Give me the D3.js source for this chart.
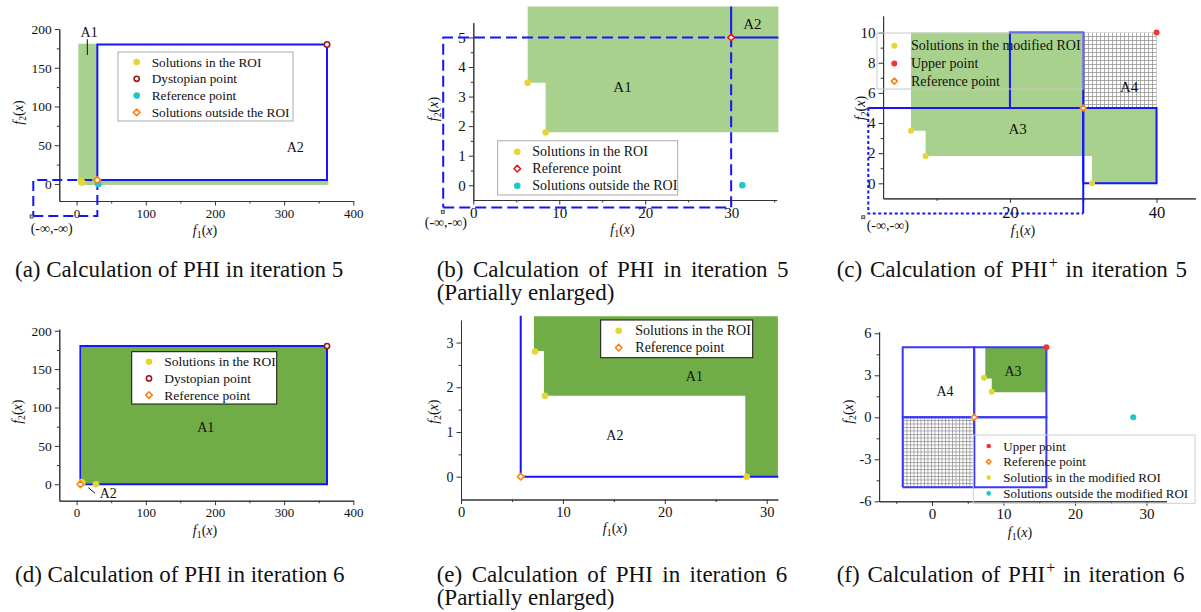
<!DOCTYPE html>
<html>
<head>
<meta charset="utf-8">
<script src="https://cdn.jsdelivr.net/npm/d3@7/dist/d3.min.js"></script>
<style>
body { margin: 0; background: #fff; }
text { font-family: "Liberation Serif", "Times New Roman", serif; fill: #111; white-space: pre; }
</style>
</head>
<body>
<div id="container"></div>
<script>
// ---------- (a) PHI, iteration 5 ----------
var aXDomain = [-25, 400], aYDomain = [-22, 200];
var aXTicks = [0, 100, 200, 300, 400], aXMinor = [50, 150, 250, 350];
var aYTicks = [0, 50, 100, 150, 200], aYMinor = [25, 75, 125, 175];
var aGreen = [[2.5, -1.5], [2.5, 181], [30, 181], [30, 5], [364, 5], [364, -1.5]];
var aBlueBox = [[30, 5], [362, 180]];
var aDashBox = [[-62.6, -41.3], [30, 5]];
var aInf = [-65, -42];
var aInROI = [[6.4, 3.5], [8.4, 1.8]];
var aDystopian = [[362, 180]];
var aRefPoint = [[31.3, 0]];
var aOutside = [[30, 5]];
var aLegend = ["Solutions in the ROI", "Dystopian point", "Reference point", "Solutions outside the ROI"];
var aLabels = [["A1", 18.2, 190], ["A2", 316, 41]];
var aLeader = [[15.5, 186.8], [15.5, 166.5]];

// ---------- (b) PHI, iteration 5, enlarged ----------
var bXDomain = [0, 35.3], bYDomain = [-0.5, 5.5];
var bXTicks = [0, 10, 20, 30], bXMinor = [5, 15, 25, 35];
var bYTicks = [0, 1, 2, 3, 4, 5], bYMinor = [0.5, 1.5, 2.5, 3.5, 4.5];
var bGreen = [[6.33, 6.05], [35.5, 6.05], [35.5, 1.79], [8.42, 1.79], [8.42, 3.47], [6.33, 3.47]];
var bBlue = [[[30, 6.05], [30, 5], [35.5, 5]]];
var bDashBox = [[-3.5, -0.75], [30, 5]];
var bInf = [-3.55, -0.9];
var bInROI = [[6.33, 3.47], [8.42, 1.79]];
var bRefPoint = [[30, 5]];
var bOutside = [[31.3, 0]];
var bLegend = ["Solutions in the ROI", "Reference point", "Solutions outside the ROI"];
var bLabels = [["A1", 17.36, 3.16], ["A2", 32.48, 5.28]];

// ---------- (c) PHI+, iteration 5 ----------
var cXDomain = [2.7, 45.3], cYDomain = [-1, 11.1];
var cXTicks = [20, 40], cXMinor = [10, 30];
var cYTicks = [0, 2, 4, 6, 8, 10], cYMinor = [1, 3, 5, 7, 9];
var cGreen = [[6.5, 10], [30, 10], [30, 5], [40, 5], [40, 0], [31.2, 0], [31.2, 1.81], [8.5, 1.81], [8.5, 3.49], [6.5, 3.49]];
var cHatch = [[[30, 5], [40, 10]]];
var cBoxes = [[[20, 5], [30, 10]], [[30, 0], [40, 5]]];
var cBlue = [[[0.68, 5], [30, 5]], [[30, 5], [30, -2]]];
var cDotted = [[[0.68, 5], [0.68, -2], [30, -2]]];
var cInf = [0, -2.25];
var cInROI = [[6.5, 3.49], [8.5, 1.81], [31.2, 0]];
var cUpper = [[40, 10]];
var cRefPoint = [[30, 5]];
var cLegend = ["Solutions in the modified ROI", "Upper point", "Reference point"];
var cLabels = [["A3", 21.04, 3.27], ["A4", 36.27, 6.04]];

// ---------- (d) PHI, iteration 6 ----------
var dXDomain = [-25, 400], dYDomain = [-21.4, 202];
var dXTicks = [0, 100, 200, 300, 400], dXMinor = [50, 150, 250, 350];
var dYTicks = [0, 50, 100, 150, 200], dYMinor = [25, 75, 125, 175];
var dGreen = [[7.2, 180], [362, 180], [362, 0], [27.9, 0], [27.9, 1.8], [8.2, 1.8], [8.2, 2.8], [7.2, 2.8]];
var dBoxes = [[[5.5, 0], [362, 180]]];
var dInROI = [[7.2, 2.8], [8.2, 1.8], [28, 0]];
var dDystopian = [[362, 180]];
var dRefPoint = [[5.5, 0]];
var dLegend = ["Solutions in the ROI", "Dystopian point", "Reference point"];
var dLabels = [["A1", 186.7, 68.1], ["A2", 45.8, -18.2]];
var dLeader = [[16.9, -4.4], [26.6, -11.7]];

// ---------- (e) PHI, iteration 6, enlarged ----------
var eXDomain = [0, 31.1], eYDomain = [-0.51, 3.5];
var eXTicks = [0, 10, 20, 30], eXMinor = [5, 15, 25];
var eYTicks = [0, 1, 2, 3], eYMinor = [0.5, 1.5, 2.5];
var eGreen = [[7.16, 3.59], [31.1, 3.59], [31.1, 0], [27.9, 0], [27.9, 1.81], [8.14, 1.81], [8.14, 2.81], [7.16, 2.81]];
var eBlue = [[[5.86, 3.6], [5.86, 0], [31.14, 0]]];
var eInROI = [[7.26, 2.8], [8.24, 1.81], [28.04, 0]];
var eRefPoint = [[5.86, 0]];
var eLegend = ["Solutions in the ROI", "Reference point"];
var eLabels = [["A1", 22.9, 2.14], ["A2", 15.1, 0.81]];

// ---------- (f) PHI+, iteration 6 ----------
var fXDomain = [-7.4, 32.8], fYDomain = [-6, 6.1];
var fXTicks = [0, 10, 20, 30], fXMinor = [-5, 5, 15, 25];
var fYTicks = [-6, -3, 0, 3, 6], fYMinor = [-4.5, -1.5, 1.5, 4.5];
var fGreen = [[7.46, 5], [16, 5], [16, 1.79], [8.35, 1.79], [8.35, 2.78], [7.46, 2.78]];
var fHatch = [[[-4.1, -5], [5.9, 0]]];
var fBoxes = [[[-4.1, 0], [5.9, 5]], [[5.9, 0], [16, 5]], [[-4.1, -5], [5.9, 0]], [[5.9, -5], [16, 0]]];
var fInROI = [[7.27, 2.83], [8.35, 1.83]];
var fUpper = [[16, 5]];
var fRefPoint = [[5.9, 0]];
var fOutside = [[28.15, 0]];
var fLegend = ["Upper point", "Reference point", "Solutions in the modified ROI", "Solutions outside the modified ROI"];
var fLabels = [["A3", 11.33, 2.97], ["A4", 1.82, 1.54]];

var captions = {
  a: ["(a) Calculation of PHI in iteration 5"],
  b: ["(b) Calculation of PHI in iteration 5", "(Partially enlarged)"],
  c: ["(c) Calculation of PHI^+ in iteration 5"],
  d: ["(d) Calculation of PHI in iteration 6"],
  e: ["(e) Calculation of PHI in iteration 6", "(Partially enlarged)"],
  f: ["(f) Calculation of PHI^+ in iteration 6"]
};

// ---------- drawing ----------
var svg = d3.select("#container").append("svg")
    .attr("width", 1201)
    .attr("height", 612);
var defs = svg.append("defs");

var BLUE = "#1414ff", LIGHT_GREEN = "#a9d18e", DARK_GREEN = "#70ad47";

// grid hatching used for the A4 cells
function hatch(id, step) {
    var p = defs.append("pattern").attr("id", id)
        .attr("patternUnits", "userSpaceOnUse")
        .attr("width", step).attr("height", step);
    p.append("rect").attr("width", step).attr("height", step).attr("fill", "#fff");
    p.append("path").attr("d", "M0,0.5H" + step + "M0.5,0V" + step)
        .attr("stroke", "#8a8a8a").attr("stroke-width", 0.7);
}
hatch("gridC", 4);
hatch("gridF", 3.5);

var kinds = {
    yellow: { shape: "circle", fill: "#e5d535", stroke: "none" },
    cyan: { shape: "circle", fill: "#1ec8c8", stroke: "none" },
    red: { shape: "circle", fill: "#f03535", stroke: "none" },
    darkRing: { shape: "circle", fill: "#fff", stroke: "#9a1818" },
    orangeDia: { shape: "diamond", fill: "#fff", stroke: "#ff7f10" },
    redDia: { shape: "diamond", fill: "#fff", stroke: "#e81818" }
};

function marker(g, kind, cx, cy, r) {
    var k = kinds[kind], el;
    if (k.shape == "circle") {
        el = g.append("circle").attr("cx", cx).attr("cy", cy)
            .attr("r", k.stroke == "none" ? r : r - 0.7);
    } else {
        el = g.append("path")
            .attr("d", "M" + cx + "," + (cy - r) + "L" + (cx + r) + "," + cy +
                "L" + cx + "," + (cy + r) + "L" + (cx - r) + "," + cy + "Z")
            .attr("stroke-linejoin", "round");
    }
    el.attr("fill", k.fill).attr("stroke", k.stroke).attr("stroke-width", 1.6);
}

function boxPts(b) {
    return [[b[0][0], b[0][1]], [b[1][0], b[0][1]], [b[1][0], b[1][1]], [b[0][0], b[1][1]], [b[0][0], b[0][1]]];
}

function axis(sel, make, scale, ticks, minor, fs) {
    sel.append("g").call(make(scale).tickValues(minor).tickSize(2.5).tickSizeOuter(0).tickFormat(""));
    sel.append("g").call(make(scale).tickValues(ticks).tickSize(4.5).tickSizeOuter(0)
        .tickPadding(3).tickFormat(function(d) { return String(d); }))
        .attr("font-size", fs);
    sel.selectAll("path, line").attr("stroke", "#333");
    sel.selectAll("text").attr("fill", "#222");
}

function axisTitle(g, sub, tx, ty, rot, fs) {
    var t = g.append("text")
        .attr("text-anchor", "middle")
        .attr("font-size", fs)
        .attr("transform", "translate(" + tx + "," + ty + ")" + (rot ? " rotate(-90)" : ""));
    t.append("tspan").attr("font-style", "italic").text("f");
    t.append("tspan").attr("font-size", fs * 0.7).attr("dy", 3).text(sub);
    t.append("tspan").attr("dy", -3).text("(");
    t.append("tspan").attr("font-style", "italic").text("x");
    t.append("tspan").text(")");
}

// figure captions, "^+" marks the superscript plus
function caption(lines, cx, cy, ws) {
    lines.forEach(function(s, i) {
        var t = svg.append("text").attr("x", cx).attr("y", cy + i * 23)
            .attr("font-size", 23).attr("word-spacing", i == 0 ? ws : 0);
        var parts = s.split("^+");
        t.append("tspan").text(parts[0]);
        if (parts.length > 1) {
            t.append("tspan").attr("font-size", 16).attr("dx", 1).attr("dy", -9).text("+");
            t.append("tspan").attr("dy", 9).text(parts[1]);
        }
    });
}

function drawPanel(p) {
    var x = d3.scaleLinear().domain(p.xDomain).range(p.xRange);
    var y = d3.scaleLinear().domain(p.yDomain).range(p.yRange);
    var line = d3.line().x(function(d) { return x(d[0]); }).y(function(d) { return y(d[1]); });
    var g = svg.append("g");

    axis(g.append("g").attr("transform", "translate(0," + p.yRange[0] + ")"),
        d3.axisBottom, x, p.xTicks, p.xMinor, p.xFont);
    axis(g.append("g").attr("transform", "translate(" + p.xRange[0] + ",0)"),
        d3.axisLeft, y, p.yTicks, p.yMinor, p.yFont);

    // hatched cells
    (p.hatch || []).forEach(function(h) {
        g.append("rect")
            .attr("x", x(h[0][0])).attr("y", y(h[1][1]))
            .attr("width", x(h[1][0]) - x(h[0][0]))
            .attr("height", y(h[0][1]) - y(h[1][1]))
            .attr("fill", "url(#" + p.hatchId + ")");
    });

    // shaded area
    g.append("path").attr("d", line(p.green) + "Z").attr("fill", p.greenColor);

    // dashed / dotted guides
    (p.dashed || []).forEach(function(l) {
        g.append("path").attr("d", line(l)).attr("fill", "none")
            .attr("stroke", BLUE).attr("stroke-width", 2).attr("stroke-dasharray", p.dash);
    });

    // solid blue rectangles and lines
    var blue = (p.boxes || []).map(boxPts).concat(p.blue || []);
    blue.forEach(function(l) {
        g.append("path").attr("d", line(l)).attr("fill", "none")
            .attr("stroke", p.blueColor || BLUE).attr("stroke-width", 2)
            .attr("stroke-linejoin", "miter");
    });

    // leader line for a small area label
    if (p.leader) {
        g.append("path").attr("d", line(p.leader)).attr("stroke", "#111").attr("stroke-width", 1);
    }

    // (-inf,-inf) corner
    if (p.inf) {
        g.append("rect")
            .attr("x", x(p.inf[0]) - 1.5).attr("y", y(p.inf[1]) - 1.5)
            .attr("width", 3).attr("height", 3)
            .attr("fill", "#ccc").attr("stroke", "#333").attr("stroke-width", 0.8);
        g.append("text")
            .attr("x", x(p.inf[0]) + p.infOffset[0])
            .attr("y", y(p.inf[1]) + p.infOffset[1])
            .attr("text-anchor", p.infOffset[2])
            .attr("font-size", 14)
            .text("(-\u221e,-\u221e)");
    }

    // points
    p.points.forEach(function(s) {
        s[1].forEach(function(d) { marker(g, s[0], x(d[0]), y(d[1]), p.r); });
    });

    // area labels
    p.labels.forEach(function(l) {
        g.append("text").attr("x", x(l[1])).attr("y", y(l[2]))
            .attr("text-anchor", "middle").attr("font-size", p.labelFont).text(l[0]);
    });

    // legend
    var L = p.legend;
    g.append("rect").attr("x", L.box[0]).attr("y", L.box[1])
        .attr("width", L.box[2]).attr("height", L.box[3])
        .attr("fill", L.fill).attr("stroke", L.stroke).attr("stroke-width", 1);
    L.items.forEach(function(it, i) {
        var yy = L.y0 + i * L.dy;
        marker(g, it[0], L.mx, yy, L.r);
        g.append("text").attr("x", L.tx).attr("y", yy + 4.6)
            .attr("font-size", L.fs).text(it[1]);
    });

    axisTitle(g, "1", p.xTitle[0], p.xTitle[1], false, 14);
    axisTitle(g, "2", p.yTitle[0], p.yTitle[1], true, 14);
}

drawPanel({
    xDomain: aXDomain, yDomain: aYDomain, xRange: [59.3, 353.3], yRange: [201, 29],
    xTicks: aXTicks, xMinor: aXMinor, yTicks: aYTicks, yMinor: aYMinor, xFont: 13, yFont: 13.5,
    green: aGreen, greenColor: LIGHT_GREEN,
    boxes: [aBlueBox], dashed: [boxPts(aDashBox)], dash: "10,5",
    inf: aInf, infOffset: [-1, 16.5, "start"],
    leader: aLeader,
    r: 3.4,
    points: [["yellow", aInROI], ["cyan", aRefPoint], ["orangeDia", aOutside], ["darkRing", aDystopian]],
    labels: aLabels, labelFont: 14,
    legend: { box: [118, 52, 175, 69], fill: "none", stroke: "#aaa", mx: 136.7, tx: 151.7, y0: 62, dy: 16.8, r: 3.3, fs: 13.3,
        items: [["yellow", aLegend[0]], ["darkRing", aLegend[1]], ["cyan", aLegend[2]], ["orangeDia", aLegend[3]]] },
    xTitle: [205, 235], yTitle: [23, 112.5]
});

drawPanel({
    xDomain: bXDomain, yDomain: bYDomain, xRange: [473.3, 776.7], yRange: [200, 22.7],
    xTicks: bXTicks, xMinor: bXMinor, yTicks: bYTicks, yMinor: bYMinor, xFont: 15, yFont: 15,
    green: bGreen, greenColor: LIGHT_GREEN,
    blue: bBlue, dashed: [boxPts(bDashBox)], dash: "11,5",
    inf: bInf, infOffset: [3, 15, "middle"],
    r: 3.3,
    points: [["yellow", bInROI], ["cyan", bOutside], ["redDia", bRefPoint]],
    labels: bLabels, labelFont: 15,
    legend: { box: [497.7, 140.7, 180, 54.3], fill: "none", stroke: "#aaa", mx: 517.3, tx: 532.3, y0: 151.7, dy: 17, r: 3.3, fs: 14,
        items: [["yellow", bLegend[0]], ["redDia", bLegend[1]], ["cyan", bLegend[2]]] },
    xTitle: [622.5, 234], yTitle: [438, 109]
});

drawPanel({
    xDomain: cXDomain, yDomain: cYDomain, xRange: [883.1, 1195.4], yRange: [198.4, 16],
    xTicks: cXTicks, xMinor: cXMinor, yTicks: cYTicks, yMinor: cYMinor, xFont: 16.5, yFont: 15,
    hatch: cHatch, hatchId: "gridC",
    green: cGreen, greenColor: LIGHT_GREEN,
    boxes: cBoxes, blue: cBlue, dashed: cDotted, dash: "3,2.5",
    inf: cInf, infOffset: [3.4, 12.7, "start"],
    r: 3,
    points: [["yellow", cInROI], ["red", cUpper], ["orangeDia", cRefPoint]],
    labels: cLabels, labelFont: 15,
    legend: { box: [877, 33, 206, 56], fill: "none", stroke: "#c8c8c8", mx: 894.3, tx: 911, y0: 45.7, dy: 17.7, r: 3, fs: 14,
        items: [["yellow", cLegend[0]], ["red", cLegend[1]], ["orangeDia", cLegend[2]]] },
    xTitle: [1023, 235], yTitle: [865, 108]
});

drawPanel({
    xDomain: dXDomain, yDomain: dYDomain, xRange: [59.3, 353.3], yRange: [500.7, 329.2],
    xTicks: dXTicks, xMinor: dXMinor, yTicks: dYTicks, yMinor: dYMinor, xFont: 13, yFont: 13.5,
    green: dGreen, greenColor: DARK_GREEN,
    boxes: dBoxes,
    leader: dLeader,
    r: 3.3,
    points: [["yellow", dInROI], ["orangeDia", dRefPoint], ["darkRing", dDystopian]],
    labels: dLabels, labelFont: 14,
    legend: { box: [131.7, 351.7, 145, 52.3], fill: "#fff", stroke: "#111", mx: 149, tx: 164.3, y0: 361.7, dy: 16.7, r: 3.3, fs: 13.5,
        items: [["yellow", dLegend[0]], ["darkRing", dLegend[1]], ["orangeDia", dLegend[2]]] },
    xTitle: [205, 535], yTitle: [22, 411.7]
});

drawPanel({
    xDomain: eXDomain, yDomain: eYDomain, xRange: [461, 777.9], yRange: [499.5, 320.2],
    xTicks: eXTicks, xMinor: eXMinor, yTicks: eYTicks, yMinor: eYMinor, xFont: 14.5, yFont: 14,
    green: eGreen, greenColor: DARK_GREEN,
    blue: eBlue,
    r: 3.3,
    points: [["yellow", eInROI], ["orangeDia", eRefPoint]],
    labels: eLabels, labelFont: 14,
    legend: { box: [600.7, 320, 152, 37.7], fill: "#fff", stroke: "#111", mx: 618.7, tx: 635.3, y0: 330.7, dy: 17, r: 3.3, fs: 14,
        items: [["yellow", eLegend[0]], ["orangeDia", eLegend[1]]] },
    xTitle: [615, 533], yTitle: [438, 411.7]
});

drawPanel({
    xDomain: fXDomain, yDomain: fYDomain, xRange: [879.1, 1166.5], yRange: [501.3, 331.9],
    xTicks: fXTicks, xMinor: fXMinor, yTicks: fYTicks, yMinor: fYMinor, xFont: 15, yFont: 14.5,
    hatch: fHatch, hatchId: "gridF",
    green: fGreen, greenColor: DARK_GREEN,
    boxes: fBoxes, blueColor: "#3a3af5",
    r: 3,
    points: [["yellow", fInROI], ["red", fUpper], ["orangeDia", fRefPoint], ["cyan", fOutside]],
    labels: fLabels, labelFont: 14,
    legend: { box: [973.3, 435, 221.7, 68.3], fill: "none", stroke: "#d0d0d0", mx: 988.7, tx: 1003.3, y0: 446, dy: 15.8, r: 2.3, fs: 13,
        items: [["red", fLegend[0]], ["orangeDia", fLegend[1]], ["yellow", fLegend[2]], ["cyan", fLegend[3]]] },
    xTitle: [1020, 537], yTitle: [853, 411.7]
});

caption(captions.a, 15, 277, 0);
caption(captions.b, 436.7, 277, 3.7);
caption(captions.c, 836.7, 277, 2);
caption(captions.d, 15, 582, 0);
caption(captions.e, 436.7, 582, 3.7);
caption(captions.f, 836.7, 582, 2);
</script>
</body>
</html>
